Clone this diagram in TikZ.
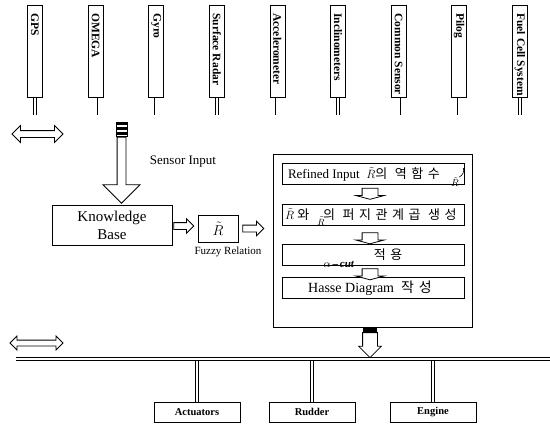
\documentclass[tikz,border=0pt]{standalone}
\usepackage{fontspec}
\setmainfont{Liberation Serif}
\newfontfamily\kr[LetterSpace=35]{Noto Sans CJK KR}
\usepackage{tikz}
\usetikzlibrary{shapes.arrows,positioning,calc}
\tikzset{
  sensor/.style={rectangle,draw,line width=0.8pt,minimum width=15pt,minimum height=92pt,inner sep=0pt},
  tag/.style={rotate=-90,anchor=west,inner sep=0pt,font=\fontsize{11.5}{13}\selectfont\bfseries},
  stem/.style={double,double distance=2.6pt,line width=0.7pt},
  bus/.style={double,double distance=2.4pt,line width=0.7pt},
  box/.style={rectangle,draw,line width=0.8pt,inner sep=0pt},
  stage/.style={box,minimum width=182pt,minimum height=21pt},
  actor/.style={box,minimum width=86pt,minimum height=20pt,font=\fontsize{10.5}{12}\selectfont\bfseries},
  blk/.style={single arrow,draw,line width=0.8pt,fill=white,inner xsep=0pt,single arrow head indent=0pt},
  twoway/.style={double arrow,draw,line width=0.8pt,fill=white,inner xsep=0pt,inner ysep=3pt,double arrow head extend=5pt},
}

\begin{document}
\begin{tikzpicture}[x=1pt,y=-1pt,line width=0.8pt]
  \useasboundingbox (0,0) rectangle (550,424);
  % sensors on the upper bus
  \coordinate (busL) at (16,116.5);
  \coordinate (busR) at (550,116.5);
  \foreach \nm/\txt [count=\i from 0] in {gps/GPS,omega/OMEGA,gyro/Gyro,radar/Surface Radar,accel/Accelerometer,incl/Inclinometers,common/Common Sensor,pilog/Pilog,fuel/Fuel Cell System}{
    \node[sensor,anchor=north] (\nm) at ({35+60.6*\i},5) {};
    \node[tag] at ($(\nm.north)+(0,8)$) {\txt};
    \draw[stem] (\nm.south) -- (\nm.south |- busL);
  }
  \draw[bus] (busL) -- (busR);
  \node[twoway,minimum height=51pt] (ioTop) at (37.5,134) {};

  % sensor input
  \node[box,minimum width=11pt,minimum height=14pt,anchor=north] (sin) at (121.5,122) {};
  \foreach \d in {0,5,10}
    \fill ($(sin.north west)+(0,\d)$) rectangle ($(sin.north east)+(0,\d+2.5)$);
  \node[blk,rotate=-90,anchor=tail,minimum height=66pt,inner ysep=4pt,single arrow head extend=14pt] (sarrow) at (sin.south) {};
  \node[font=\fontsize{13}{15}\selectfont] (sinlab) at (183,162) {Sensor Input};

  % knowledge base and fuzzy relation
  \node[box,minimum width=120pt,minimum height=40pt,align=center,font=\fontsize{15}{18}\selectfont] (kb) at (112,225) {Knowledge\\Base};
  \node[box,minimum width=40pt,minimum height=27pt,font=\fontsize{14}{16}\selectfont] (rel) at (218,228.5) {$\tilde{R}$};
  \node[blk,anchor=tail,minimum height=20pt,inner ysep=3pt,single arrow head extend=4pt] (a1) at ($(kb.east)+(1,1)$) {};
  \node[font=\fontsize{11}{13}\selectfont] (rellab) at (228,252) {Fuzzy Relation};

  % processing panel
  \node[box,minimum width=199pt,minimum height=173pt] (panel) at (372.5,240.5) {};
  \node[blk,anchor=tail,minimum height=21pt,inner ysep=3pt,single arrow head extend=4pt] (a2) at ($(rel.east)+(4,0)$) {};
  \node[stage] (s1) at (373,174) {};
  \node[stage] (s2) at (373,214.5) {};
  \node[stage] (s3) at (373,254.5) {};
  \node[stage] (s4) at (373,288) {};
  \foreach \a/\gap in {s1/3,s2/7,s3/3}
    \node[blk,rotate=-90,anchor=tail,minimum height=11pt,inner ysep=7.5pt,single arrow head extend=6pt,single arrow tip angle=150] at ($(\a.south)+(-3,\gap)$) {};
  \node[anchor=west,inner sep=0pt,font=\fontsize{13}{15}\selectfont] (t1) at ($(s1.west)+(6,0)$) {Refined Input \ $\tilde{R}${\kr 의 역함수}};
  \node[inner sep=0pt,font=\fontsize{10}{12}\selectfont] (rinv) at (455,182) {$\tilde{R}$};
  \draw[line width=0.6pt] (rinv.north east) to[bend right=40] ($(s1.east)+(-1,-6)$);
  \node[anchor=west,inner sep=0pt,font=\fontsize{13}{15}\selectfont] (t2) at ($(s2.west)+(3,0)$) {$\tilde{R}$ {\kr 와}\hspace{14pt}{\kr 의 퍼지관계곱 생성}};
  \node[inner sep=0pt,font=\fontsize{9}{11}\selectfont] (rsub) at (321,221) {$\tilde{R}$};
  \node[inner sep=0pt,font=\fontsize{13}{15}\selectfont] (t3) at (388,254.5) {\kr 적용};
  \node[inner sep=0pt,font=\fontsize{11}{13}\selectfont\bfseries] (acut) at (339,264) {$\alpha$\,--\,\textit{cut}};
  \node[inner sep=0pt,font=\fontsize{14}{16}\selectfont] (t4) at (370,288) {Hasse Diagram \ {\kr 작성}};

  % actuators on the lower bus
  \node[fill=black,minimum width=14pt,minimum height=4pt,inner sep=0pt,anchor=north] (outblk) at ($(panel.south)+(-2.5,0)$) {};
  \node[blk,rotate=-90,anchor=tail,minimum height=25pt,inner ysep=7pt,single arrow head extend=4pt] (outarrow) at (outblk.south) {};
  \coordinate (lbusL) at (16,359);
  \coordinate (lbusR) at (550,359);
  \foreach \nm/\txt/\xx in {act/Actuators/197,rud/Rudder/312,eng/Engine/433}{
    \node[actor,anchor=north] (\nm) at (\xx,402) {\txt};
    \draw[stem] (\nm.north) -- (\nm.north |- lbusL);
  }
  \draw[bus] (lbusL) -- (lbusR);
  \node[twoway,minimum height=53pt,inner ysep=2.5pt,double arrow head extend=4pt] (ioBot) at (36.5,343) {};
\end{tikzpicture}
\end{document}
